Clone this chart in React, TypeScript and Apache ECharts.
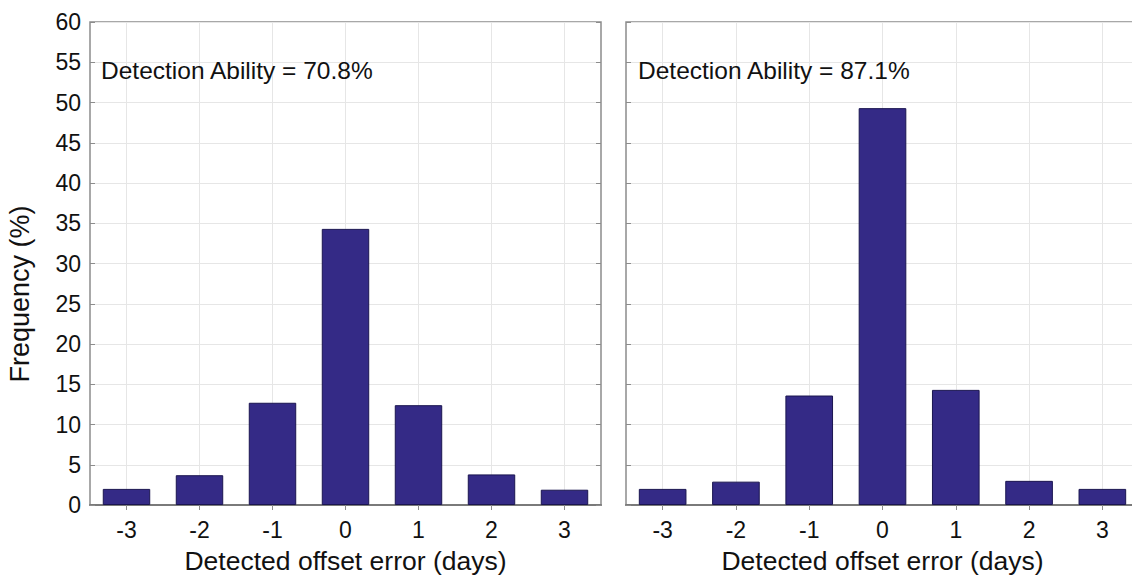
import React, { useEffect, useRef } from "react";
import * as echarts from "echarts";

const categories = ["-3", "-2", "-1", "0", "1", "2", "3"];
const leftValues = [2.0, 3.7, 12.7, 34.3, 12.4, 3.8, 1.9];
const rightValues = [2.0, 2.9, 13.6, 49.3, 14.3, 3.0, 2.0];
const leftLabel = "Detection Ability = 70.8%";
const rightLabel = "Detection Ability = 87.1%";
const xTitle = "Detected offset error (days)";
const yTitle = "Frequency (%)";

const FONT = "'Liberation Sans', Arial, Helvetica, sans-serif";
const GRID_COLOR = "#e6e6e6";
const BORDER = "#8c8c8c";
const BAR = "#342a86";

export default function App() {
  const ref = useRef<HTMLDivElement>(null);
  useEffect(() => {
    if (!ref.current) return;
    const chart = echarts.init(ref.current, undefined, { renderer: "svg" });
    const grids = [
      { left: 90, top: 22, width: 511, height: 483 },
      { left: 626, top: 22, width: 513, height: 483 },
    ];
    const xAxes: any[] = [];
    const yAxes: any[] = [];
    [0, 1].forEach((g) => {
      xAxes.push({
        type: "category",
        gridIndex: g,
        data: categories,
        position: "bottom",
        axisLine: { show: true, lineStyle: { color: "#7a7a7a", width: 2 } },
        axisTick: { show: false },
        axisLabel: { color: "#111", fontSize: 23, fontFamily: FONT, margin: 13 },
        splitLine: { show: true, alignWithLabel: true, lineStyle: { color: GRID_COLOR, width: 1 } },
        name: xTitle,
        nameLocation: "middle",
        nameGap: 41,
        nameTextStyle: { color: "#111", fontSize: 26.5, fontFamily: FONT, lineHeight: 29 },
      });
      xAxes.push({
        type: "category",
        gridIndex: g,
        data: categories,
        position: "top",
        axisLine: { show: false },
        axisTick: { show: true, inside: true, alignWithLabel: true, length: 5, lineStyle: { color: BORDER } },
        axisLabel: { show: false },
        splitLine: { show: false },
      });
      yAxes.push({
        type: "value",
        gridIndex: g,
        min: 0,
        max: 60,
        interval: 5,
        position: "left",
        axisLine: { show: false },
        axisTick: { show: true, inside: true, length: 5, lineStyle: { color: BORDER } },
        axisLabel: g === 0
          ? { show: true, color: "#111", fontSize: 23, fontFamily: FONT, margin: 9 }
          : { show: false },
        splitLine: { show: true, lineStyle: { color: GRID_COLOR, width: 1 } },
      });
      yAxes.push({
        type: "value",
        gridIndex: g,
        min: 0,
        max: 60,
        interval: 5,
        position: "right",
        axisLine: { show: false },
        axisTick: { show: true, inside: true, length: 5, lineStyle: { color: BORDER } },
        axisLabel: { show: false },
        splitLine: { show: false },
      });
    });

    chart.setOption({
      animation: false,
      grid: grids.map((g) => ({
        ...g,
        containLabel: false,
        outerBoundsMode: "none",
        show: true,
        borderColor: BORDER,
        borderWidth: 1.5,
        backgroundColor: "#fff",
      })),
      xAxis: xAxes,
      yAxis: yAxes,
      series: [
        {
          type: "bar",
          xAxisIndex: 0,
          yAxisIndex: 0,
          data: leftValues,
          barWidth: "65%",
          itemStyle: { color: BAR, borderColor: "#1a1550", borderWidth: 1 },
        },
        {
          type: "bar",
          xAxisIndex: 2,
          yAxisIndex: 2,
          data: rightValues,
          barWidth: "65%",
          itemStyle: { color: BAR, borderColor: "#1a1550", borderWidth: 1 },
        },
      ],
      graphic: [
        {
          type: "text",
          left: 101,
          top: 58,
          style: { text: leftLabel, fill: "#111", font: `24.5px ${FONT}` },
          z: 100,
        },
        {
          type: "text",
          left: 638,
          top: 58,
          style: { text: rightLabel, fill: "#111", font: `24.5px ${FONT}` },
          z: 100,
        },
        {
          type: "text",
          x: 20,
          y: 294,
          rotation: Math.PI / 2,
          style: {
            text: yTitle,
            fill: "#111",
            font: `27px ${FONT}`,
            align: "center",
            verticalAlign: "middle",
          },
        },
      ],
    });
    return () => chart.dispose();
  }, []);
  return (
    <div
      ref={ref}
      style={{ position: "absolute", left: 0, top: 0, width: 1132, height: 576, background: "#fff" }}
    />
  );
}
